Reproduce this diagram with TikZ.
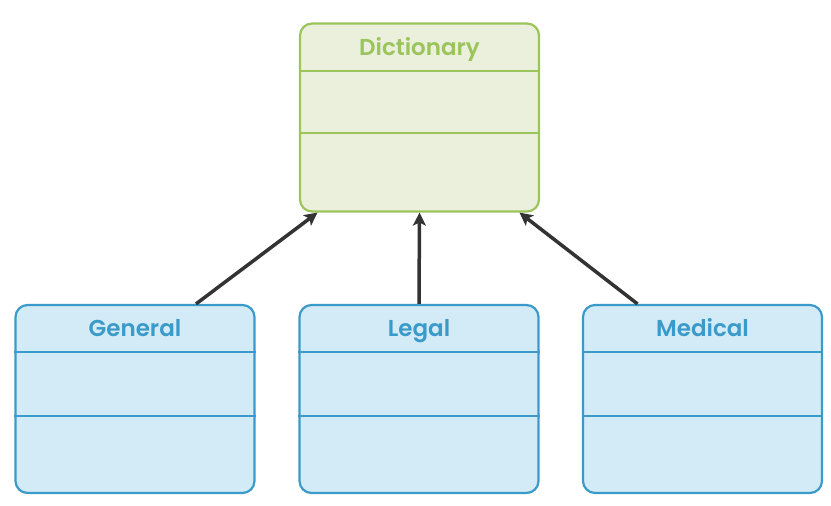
\documentclass[tikz,border=0pt]{standalone}
\usepackage{fontspec}
\setmainfont{Poppins}[BoldFont={Poppins SemiBold}]
\usetikzlibrary{arrows.meta}
\definecolor{dictfill}{HTML}{EAF0DC}
\definecolor{dictdraw}{HTML}{9BC45A}
\definecolor{subfill}{HTML}{D3EAF7}
\definecolor{subdraw}{HTML}{3A9AC9}
\definecolor{arrowgray}{HTML}{333333}
\tikzset{
  classbox/.style={rectangle,rounded corners=12pt,line width=2.2pt,
    minimum width=239pt,minimum height=188pt,inner sep=0pt},
  dictbox/.style={classbox,draw=dictdraw,fill=dictfill},
  subbox/.style={classbox,draw=subdraw,fill=subfill},
  classname/.style={font=\fontsize{23}{27}\selectfont\bfseries,inner sep=0pt,anchor=base},
  inherit/.style={line width=3.5pt,draw=arrowgray,
    -{Stealth[length=13pt,width=13pt,inset=3pt]}}
}
\begin{document}
\begin{tikzpicture}[x=1pt,y=1pt]
 \useasboundingbox (0,0) rectangle (831,-506);
 % parent class
 \node [dictbox] (dict) at (419.5,-117.5) {};
 \node [classname,text=dictdraw] (dictname) at (419.5,-55) {Dictionary};
 \draw [dictdraw,line width=2pt] (dict.west |- 0,-71) -- (dict.east |- 0,-71);
 \draw [dictdraw,line width=2pt] (dict.west |- 0,-133) -- (dict.east |- 0,-133);
 % subclasses
 \node [subbox] (general) at (135,-399) {};
 \node [classname,text=subdraw] (generalname) at (135,-336) {General};
 \draw [subdraw,line width=2pt] (general.west |- 0,-352) -- (general.east |- 0,-352);
 \draw [subdraw,line width=2pt] (general.west |- 0,-416) -- (general.east |- 0,-416);
 \node [subbox] (legal) at (419,-399) {};
 \node [classname,text=subdraw] (legalname) at (419,-336) {Legal};
 \draw [subdraw,line width=2pt] (legal.west |- 0,-352) -- (legal.east |- 0,-352);
 \draw [subdraw,line width=2pt] (legal.west |- 0,-416) -- (legal.east |- 0,-416);
 \node [subbox] (medical) at (702.5,-399) {};
 \node [classname,text=subdraw] (medicalname) at (702.5,-336) {Medical};
 \draw [subdraw,line width=2pt] (medical.west |- 0,-352) -- (medical.east |- 0,-352);
 \draw [subdraw,line width=2pt] (medical.west |- 0,-416) -- (medical.east |- 0,-416);
 % inheritance
 \draw [inherit] ([xshift=61pt]general.north) -- ([xshift=-102pt]dict.south);
 \draw [inherit] (legal.north) -- (dict.south);
 \draw [inherit] ([xshift=-65pt]medical.north) -- ([xshift=100pt]dict.south);
\end{tikzpicture}
\end{document}
